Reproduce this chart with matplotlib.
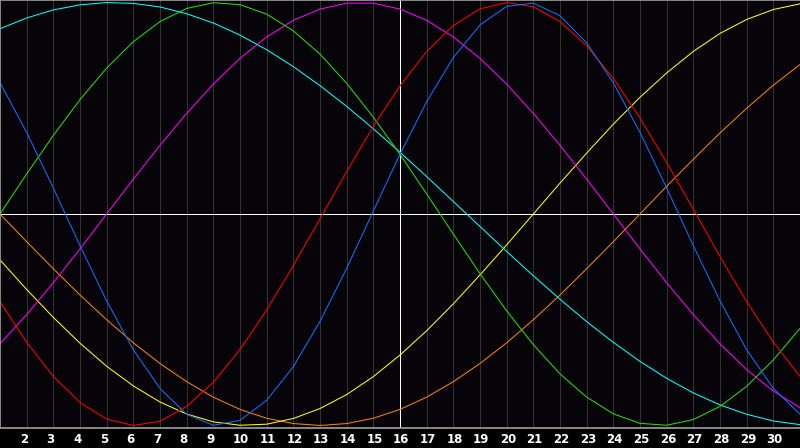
#-  Python 3 source code

#-  plot.py ~~
#
#   Redraws a seven-cycle biorhythm chart for one month: daily values for each
#   cycle, a vertical grid line per day, and a white marker on "today".
#

import matplotlib
matplotlib.use("Agg")
import matplotlib.pyplot as pyplot
from matplotlib.transforms import blended_transform_factory, offset_copy

###

days = list(range(1, 32))
day_labels = [str(d) for d in range(2, 31)]
today = 16

red = [-0.414, -0.606, -0.768, -0.891, -0.970, -1.000, -0.980, -0.910, -0.796,
       -0.641, -0.454, -0.244, -0.023, 0.201, 0.414, 0.606, 0.768, 0.891,
       0.970, 1.000, 0.980, 0.910, 0.796, 0.641, 0.454, 0.244, 0.023, -0.201,
       -0.414, -0.606, -0.768]

blue = [0.621, 0.386, 0.123, -0.150, -0.411, -0.642, -0.825, -0.947, -0.999,
        -0.976, -0.881, -0.722, -0.508, -0.257, 0.014, 0.283, 0.531, 0.740,
        0.894, 0.982, 0.997, 0.938, 0.809, 0.621, 0.386, 0.123, -0.150,
        -0.411, -0.642, -0.825, -0.947]

green = [0.000, 0.189, 0.372, 0.541, 0.690, 0.815, 0.910, 0.972, 0.999, 0.990,
         0.945, 0.866, 0.756, 0.618, 0.458, 0.282, 0.095, -0.095, -0.282,
         -0.458, -0.618, -0.756, -0.866, -0.945, -0.990, -0.999, -0.972,
         -0.910, -0.815, -0.690, -0.541]

cyan = [0.876, 0.927, 0.965, 0.989, 1.000, 0.996, 0.979, 0.947, 0.903, 0.846,
        0.777, 0.697, 0.607, 0.509, 0.403, 0.292, 0.177, 0.059, -0.059,
        -0.177, -0.292, -0.403, -0.509, -0.607, -0.697, -0.777, -0.846,
        -0.903, -0.947, -0.979, -0.996]

magenta = [-0.614, -0.476, -0.325, -0.165, 0.000, 0.165, 0.325, 0.476, 0.614,
           0.736, 0.837, 0.916, 0.969, 0.997, 0.997, 0.969, 0.916, 0.837,
           0.736, 0.614, 0.476, 0.325, 0.165, 0.000, -0.165, -0.325, -0.476,
           -0.614, -0.736, -0.837, -0.916]

yellow = [-0.217, -0.357, -0.489, -0.611, -0.720, -0.813, -0.889, -0.946,
          -0.983, -0.999, -0.994, -0.967, -0.920, -0.854, -0.769, -0.667,
          -0.552, -0.425, -0.288, -0.146, 0.000, 0.146, 0.288, 0.425, 0.552,
          0.667, 0.769, 0.854, 0.920, 0.967, 0.994]

orange = [0.000, -0.131, -0.259, -0.383, -0.500, -0.609, -0.707, -0.793,
          -0.866, -0.924, -0.966, -0.991, -1.000, -0.991, -0.966, -0.924,
          -0.866, -0.793, -0.707, -0.609, -0.500, -0.383, -0.259, -0.131,
          0.000, 0.131, 0.259, 0.383, 0.500, 0.609, 0.707]

###

def analyze():

    fig = pyplot.figure(figsize=(8.0, 4.48), dpi=100, facecolor="#000000")
    ax = fig.add_axes([0.0, 20.0 / 448, 1.0, 428.0 / 448])
    ax.set_facecolor("#060409")

  # Day grid first, so the cycles sit on top of it

    for d in range(2, 31):
        colour = "#ffffff" if d == today else "#333333"
        ax.axvline(d, color=colour, linewidth=0.7, antialiased=False, zorder=1)
    ax.axhline(0, color="#ffffff", linewidth=0.7, antialiased=False, zorder=1)

    series = [
        (orange, "#ff8000"),
        (yellow, "#ffff00"),
        (magenta, "#ff00ff"),
        (cyan, "#00ffff"),
        (green, "#22e000"),
        (red, "#ff0000"),
        (blue, "#1070ff"),
    ]
    for values, colour in series:
        ax.plot(days, values, color=colour, linewidth=0.75, antialiased=True,
                zorder=2)

    ax.set_xlim(1, 31)
    ax.set_ylim(-1.012, 1.012)
    ax.set_xticks([])
    ax.set_yticks([])

    for side in ("left", "top", "bottom"):
        ax.spines[side].set_color("#a0a0a0")
        ax.spines[side].set_linewidth(1.2)
    ax.spines["right"].set_visible(False)

  # Day numbers sit under the frame, a little left of their grid line

    base = blended_transform_factory(ax.transData, ax.transAxes)
    shifted = offset_copy(base, fig=fig, x=-7, y=-11, units="dots")
    for label in day_labels:
        ax.text(int(label), 0, label, transform=shifted, color="#ffffff",
                fontsize=8.5, fontweight="bold", ha="left", va="center",
                clip_on=False)

    fig.savefig("out.png", dpi=100, facecolor=fig.get_facecolor())

###

def main():
    analyze()

###

if __name__ == "__main__":
    main()

#-  vim:set syntax=python:
